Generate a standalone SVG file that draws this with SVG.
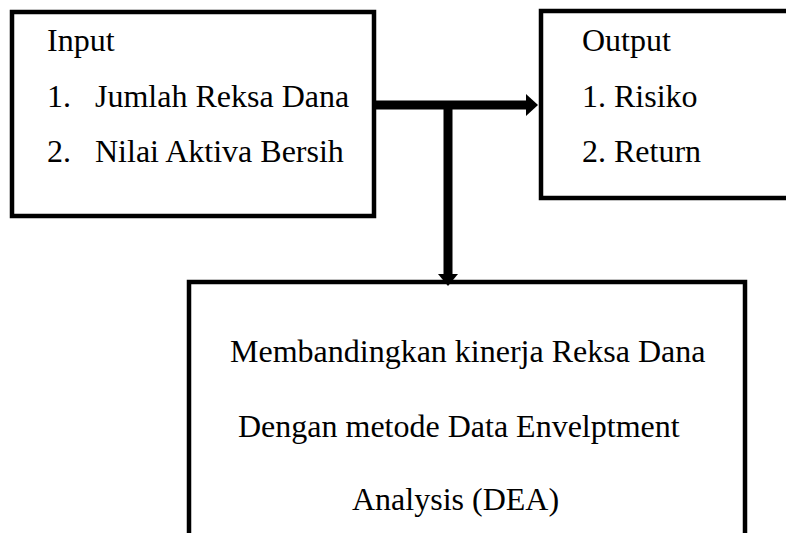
<svg xmlns="http://www.w3.org/2000/svg" width="786" height="533" viewBox="0 0 786 533">
<style>
.box{fill:#fff;stroke:#000;stroke-width:4.5}
.t{font-family:"Liberation Serif","Times New Roman",serif;font-size:32px;fill:#000}
.c{stroke:#000;stroke-width:9;fill:none}
</style>
<rect width="786" height="533" fill="#fff"/>
<g id="input">
<rect class="box" x="12" y="12" width="362" height="204"/>
<text class="t" x="47" y="51">Input</text>
<text class="t" x="47" y="107">1.</text>
<text class="t" x="95" y="107">Jumlah Reksa Dana</text>
<text class="t" x="47" y="162">2.</text>
<text class="t" x="95" y="162">Nilai Aktiva Bersih</text>
</g>
<g id="output">
<rect class="box" x="541" y="11" width="270" height="187"/>
<text class="t" x="582" y="51">Output</text>
<text class="t" x="582" y="107">1. Risiko</text>
<text class="t" x="582" y="162">2. Return</text>
</g>
<g id="process">
<rect class="box" x="189" y="282" width="556" height="270"/>
<text class="t" x="230" y="362">Membandingkan kinerja Reksa Dana</text>
<text class="t" x="238" y="437">Dengan metode Data Envelptment</text>
<text class="t" x="352" y="510">Analysis (DEA)</text>
</g>
<g id="connectors">
<line class="c" x1="374" y1="105" x2="528" y2="105"/>
<polygon points="526,94 538,105 526,116" fill="#000"/>
<line class="c" x1="448" y1="105" x2="448" y2="276"/>
<polygon points="438,274 458,274 448,286" fill="#000"/>
</g>
</svg>
